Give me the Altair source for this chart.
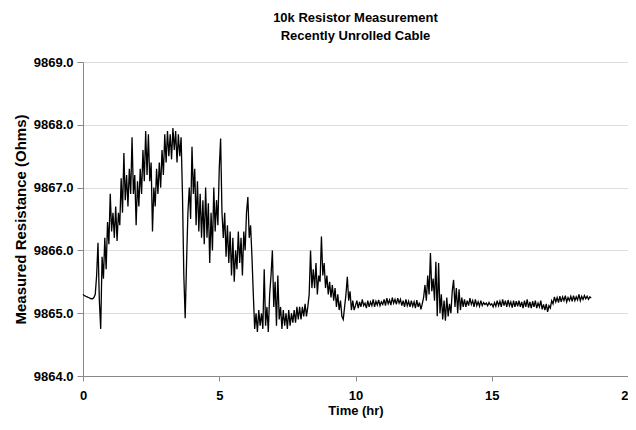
import altair as alt
import pandas as pd

# Sampled every 0.05 hr starting at t = 0.00
T0 = 0.0
DT = 0.05

resistance = [
    # 0.00 - 0.45
    9865.30, 9865.28, 9865.27, 9865.26, 9865.25, 9865.24, 9865.23, 9865.23, 9865.25, 9865.30,
    # 0.50 - 0.95
    9865.60, 9866.12, 9865.20, 9864.75, 9865.90, 9865.55, 9866.20, 9865.70, 9866.45, 9866.10,
    # 1.00 - 1.45
    9866.90, 9866.30, 9866.60, 9866.20, 9866.70, 9866.15, 9866.60, 9866.40, 9867.15, 9866.60,
    # 1.50 - 1.95
    9867.55, 9866.80, 9867.20, 9866.70, 9867.30, 9866.90, 9867.80, 9866.90, 9867.20, 9866.40,
    # 2.00 - 2.45
    9867.10, 9866.70, 9867.30, 9866.90, 9867.60, 9867.10, 9867.90, 9867.20, 9867.85, 9867.10,
    # 2.50 - 2.95
    9867.40, 9866.30, 9867.00, 9866.70, 9867.30, 9866.90, 9867.40, 9867.00, 9867.60, 9867.20,
    # 3.00 - 3.45
    9867.85, 9867.40, 9867.90, 9867.50, 9867.85, 9867.45, 9867.95, 9867.60, 9867.90, 9867.40,
    # 3.50 - 3.95
    9867.85, 9867.50, 9867.80, 9866.90, 9865.60, 9864.92, 9865.80, 9866.60, 9867.00, 9866.50,
    # 4.00 - 4.45
    9867.65, 9866.90, 9867.30, 9866.40, 9867.10, 9866.30, 9866.90, 9866.20, 9866.80, 9866.10,
    # 4.50 - 4.95
    9867.00, 9866.20, 9866.75, 9865.80, 9866.60, 9866.00, 9867.00, 9866.30, 9866.80, 9866.40,
    # 5.00 - 5.45
    9867.30, 9867.78, 9866.60, 9866.20, 9866.60, 9865.90, 9866.40, 9865.80, 9866.30, 9865.60,
    # 5.50 - 5.95
    9866.20, 9865.50, 9866.00, 9865.70, 9866.30, 9865.80, 9866.20, 9865.60, 9866.30, 9866.00,
    # 6.00 - 6.45
    9866.60, 9866.85, 9866.20, 9866.40, 9865.90, 9865.30, 9864.75, 9865.00, 9864.70, 9865.05,
    # 6.50 - 6.95
    9864.80, 9865.00, 9864.75, 9865.70, 9864.80, 9865.10, 9864.70, 9865.30, 9865.60, 9866.00,
    # 7.00 - 7.45
    9865.10, 9865.50, 9864.80, 9865.60, 9864.90, 9865.10, 9864.75, 9865.05, 9864.80, 9865.00,
    # 7.50 - 7.95
    9864.75, 9865.05, 9864.80, 9865.00, 9864.85, 9865.05, 9864.85, 9865.10, 9864.90, 9865.10,
    # 8.00 - 8.45
    9864.90, 9865.10, 9864.95, 9865.15, 9864.95, 9865.10, 9865.30, 9866.00, 9865.40, 9865.70,
    # 8.50 - 8.95
    9865.40, 9865.80, 9865.30, 9865.60, 9865.50, 9866.22, 9865.60, 9865.80, 9865.40, 9865.60,
    # 9.00 - 9.45
    9865.30, 9865.50, 9865.25, 9865.45, 9865.20, 9865.40, 9865.10, 9865.30, 9865.05, 9865.20,
    # 9.50 - 9.95
    9864.95, 9864.90, 9865.10, 9865.30, 9865.58, 9865.20, 9865.35, 9865.05, 9865.20, 9865.05,
    # 10.00 - 10.45
    9865.12, 9865.20, 9865.08, 9865.18, 9865.10, 9865.22, 9865.12, 9865.16, 9865.08, 9865.20,
    # 10.50 - 10.95
    9865.10, 9865.18, 9865.12, 9865.22, 9865.10, 9865.19, 9865.13, 9865.21, 9865.12, 9865.18,
    # 11.00 - 11.45
    9865.14, 9865.22, 9865.12, 9865.24, 9865.15, 9865.21, 9865.13, 9865.25, 9865.16, 9865.22,
    # 11.50 - 11.95
    9865.14, 9865.24, 9865.16, 9865.22, 9865.12, 9865.20, 9865.10, 9865.22, 9865.12, 9865.19,
    # 12.00 - 12.45
    9865.10, 9865.20, 9865.11, 9865.18, 9865.08, 9865.21, 9865.10, 9865.17, 9865.06, 9865.15,
    # 12.50 - 12.95
    9865.25, 9865.45, 9865.20, 9865.60, 9865.30, 9865.96, 9865.35, 9865.55, 9865.20, 9865.82,
    # 13.00 - 13.45
    9864.95, 9865.80, 9865.00, 9865.30, 9864.90, 9865.20, 9864.88, 9865.25, 9864.95, 9865.15,
    # 13.50 - 13.95
    9865.00, 9865.35, 9865.53, 9865.10, 9865.40, 9865.00, 9865.38, 9865.05, 9865.25, 9865.10,
    # 14.00 - 14.45
    9865.22, 9865.10, 9865.20, 9865.12, 9865.24, 9865.14, 9865.20, 9865.10, 9865.22, 9865.12,
    # 14.50 - 14.95
    9865.18, 9865.11, 9865.20, 9865.12, 9865.17, 9865.14, 9865.16, 9865.12, 9865.17, 9865.13,
    # 15.00 - 15.45
    9865.15, 9865.10, 9865.17, 9865.11, 9865.20, 9865.12, 9865.19, 9865.10, 9865.22, 9865.12,
    # 15.50 - 15.95
    9865.20, 9865.10, 9865.21, 9865.12, 9865.18, 9865.09, 9865.20, 9865.10, 9865.19, 9865.11,
    # 16.00 - 16.45
    9865.20, 9865.10, 9865.18, 9865.08, 9865.20, 9865.10, 9865.22, 9865.09, 9865.18, 9865.08,
    # 16.50 - 16.95
    9865.19, 9865.10, 9865.20, 9865.08, 9865.16, 9865.10, 9865.20, 9865.06, 9865.14, 9865.05,
    # 17.00 - 17.45
    9865.15, 9865.02, 9865.12, 9865.08, 9865.20, 9865.15, 9865.26, 9865.18, 9865.25, 9865.17,
    # 17.50 - 17.95
    9865.27, 9865.18, 9865.26, 9865.20, 9865.28, 9865.18, 9865.25, 9865.20, 9865.27, 9865.19,
    # 18.00 - 18.45
    9865.28, 9865.20, 9865.26, 9865.21, 9865.30, 9865.20, 9865.27, 9865.22, 9865.28, 9865.23,
    # 18.50 - 18.65
    9865.27, 9865.22, 9865.26, 9865.24,
]

time_hr = [round(T0 + i * DT, 2) for i in range(len(resistance))]

x_ticks = [0, 5, 10, 15, 20]
y_ticks = [9864.0, 9865.0, 9866.0, 9867.0, 9868.0, 9869.0]

df = pd.DataFrame({"t": time_hr, "r": resistance})

FONT = "Liberation Sans"

chart = (
    alt.Chart(df)
    .mark_line(color="black", strokeWidth=1.3)
    .encode(
        x=alt.X(
            "t:Q",
            scale=alt.Scale(domain=[0, 20], nice=False, zero=False),
            axis=alt.Axis(
                title="Time (hr)",
                values=x_ticks,
                format="d",
                grid=False,
                labelFlush=False,
                tickSize=5,
                labelPadding=8,
                titlePadding=2,
                labelFont=FONT,
                labelFontSize=13,
                labelFontWeight="bold",
                titleFontSize=13,
            ),
        ),
        y=alt.Y(
            "r:Q",
            scale=alt.Scale(domain=[9864, 9869], nice=False, zero=False),
            axis=alt.Axis(
                title="Measured Resistance (Ohms)",
                values=y_ticks,
                format=".1f",
                grid=True,
                tickSize=6,
                labelPadding=4,
                titlePadding=5,
                labelFont=FONT,
                labelFontSize=13,
                labelFontWeight="bold",
                titleFontSize=15,
            ),
        ),
    )
    .properties(
        width=545,
        height=314,
        autosize=alt.AutoSizeParams(type="none"),
        padding={"left": 75, "top": 54, "right": 0, "bottom": 46},
        title=alt.TitleParams(
            text=["10k Resistor Measurement", "Recently Unrolled Cable"],
            font=FONT,
            fontSize=13,
            fontWeight="bold",
            color="black",
            anchor="middle",
            lineHeight=18,
            offset=13,
        ),
    )
    .configure_view(stroke="#a8a8a8", strokeWidth=1.5)
    .configure_axis(
        labelFont=FONT,
        labelFontWeight="bold",
        labelColor="black",
        titleFont=FONT,
        titleFontWeight="bold",
        titleColor="black",
        domainColor="#a8a8a8",
        domainWidth=1.5,
        tickColor="#a8a8a8",
        gridColor="#d4d4d4",
        gridWidth=1,
    )
    .configure(background="white")
)

chart.save("out.html", embed_options={"renderer": "svg", "actions": False})
